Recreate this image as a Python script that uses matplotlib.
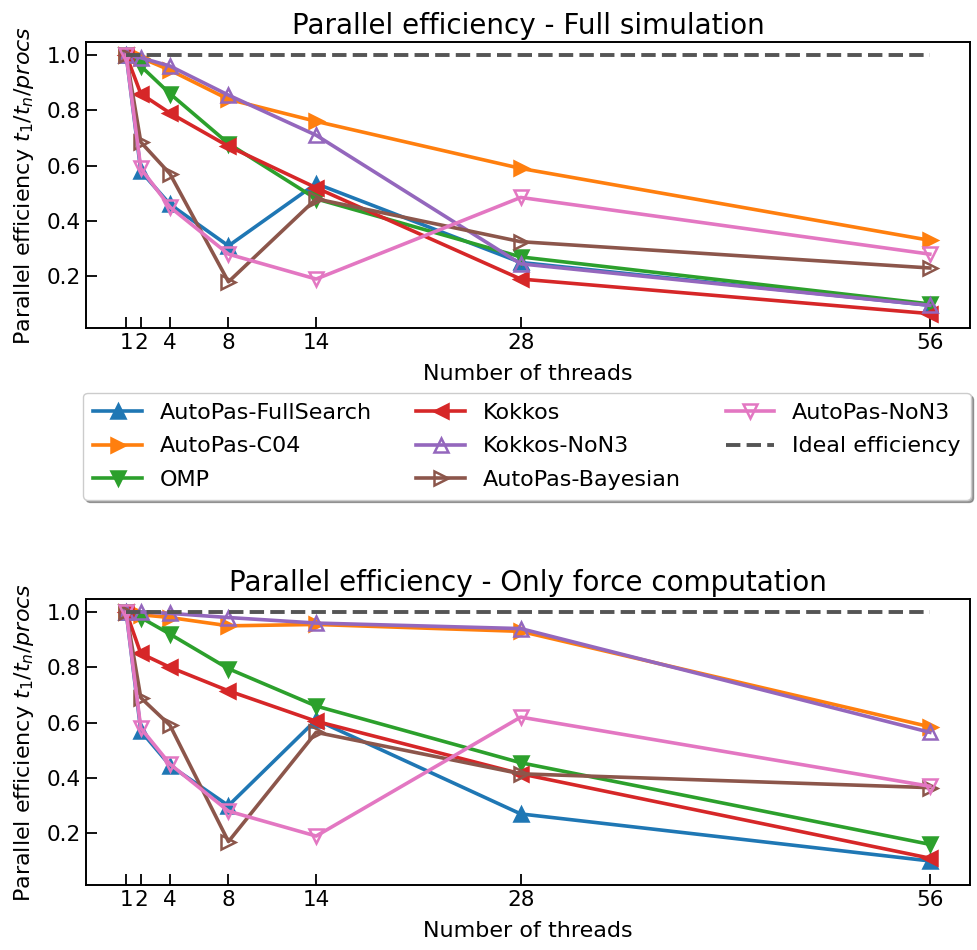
import matplotlib
matplotlib.use("Agg")
from matplotlib import pyplot as plt

threads = [1, 2, 4, 8, 14, 28, 56]

# full simulation
full_fullsearch = [1.0, 0.58, 0.46, 0.31, 0.535, 0.25, 0.095]
full_c04 = [1.0, 0.99, 0.945, 0.84, 0.76, 0.59, 0.33]
full_omp = [1.0, 0.96, 0.86, 0.68, 0.48, 0.27, 0.10]
full_kokkos = [1.0, 0.86, 0.79, 0.67, 0.52, 0.19, 0.065]
full_kokkos_non3 = [1.0, 0.99, 0.96, 0.855, 0.71, 0.245, 0.095]
full_bayesian = [1.0, 0.685, 0.57, 0.18, 0.48, 0.325, 0.23]
full_non3 = [1.0, 0.59, 0.45, 0.28, 0.19, 0.485, 0.28]

# force computation only
force_fullsearch = [1.0, 0.57, 0.445, 0.30, 0.61, 0.27, 0.10]
force_c04 = [1.0, 0.99, 0.98, 0.95, 0.955, 0.93, 0.585]
force_omp = [1.0, 0.98, 0.92, 0.795, 0.66, 0.455, 0.16]
force_kokkos = [1.0, 0.85, 0.80, 0.715, 0.605, 0.415, 0.11]
force_kokkos_non3 = [1.0, 1.0, 0.995, 0.98, 0.96, 0.94, 0.565]
force_bayesian = [1.0, 0.69, 0.59, 0.17, 0.565, 0.415, 0.365]
force_non3 = [1.0, 0.58, 0.45, 0.28, 0.19, 0.62, 0.37]

ideal = [1.0, 1.0]
ideal_x = [1, 56]

names = ["AutoPas-FullSearch", "AutoPas-C04", "OMP", "Kokkos",
         "Kokkos-NoN3", "AutoPas-Bayesian", "AutoPas-NoN3"]
markers = ["^", ">", "v", "<", "^", ">", "v"]
filled = [True, True, True, True, False, False, False]
colors = ["tab:blue", "tab:orange", "tab:green", "tab:red",
          "tab:purple", "tab:brown", "tab:pink"]

full = [full_fullsearch, full_c04, full_omp, full_kokkos,
        full_kokkos_non3, full_bayesian, full_non3]
force = [force_fullsearch, force_c04, force_omp, force_kokkos,
         force_kokkos_non3, force_bayesian, force_non3]

fig = plt.figure(figsize=(9.78, 9.5), dpi=100)
ax1 = fig.add_axes([86/978, 1-328/950, 884/978, 286/950])
ax2 = fig.add_axes([86/978, 1-885/950, 884/978, 286/950])


def draw(ax, series, title):
    for vals, name, m, f, c in zip(series, names, markers, filled, colors):
        ax.plot(threads, vals, marker=m, color=c, lw=2.6, ms=10.5, mew=1.8,
                mfc=c if f else "none", label=name)
    ax.plot(ideal_x, ideal, "--", color="#555555", lw=2.8, label="Ideal efficiency")
    ax.set_title(title, fontsize=20, pad=6)
    ax.set_xlabel("Number of threads", fontsize=16, labelpad=8)
    ax.set_ylabel("Parallel efficiency $t_1/t_n/procs$", fontsize=16, labelpad=8)
    ax.set_xticks(threads)
    ax.set_yticks([0.2, 0.4, 0.6, 0.8, 1.0])
    ax.set_ylim(0.013, 1.047)
    ax.tick_params(direction="in", labelsize=15.5, length=8, width=1.3)
    for s in ax.spines.values():
        s.set_linewidth(1.4)


draw(ax1, full, "Parallel efficiency - Full simulation")
draw(ax2, force, "Parallel efficiency - Only force computation")

h, l = ax1.get_legend_handles_labels()
fig.legend(h, l, ncol=3, fontsize=16, shadow=True, fancybox=True,
           loc="upper center", bbox_to_anchor=(527/978, 1-393/950),
           borderaxespad=0, columnspacing=2.0, handlelength=2.2,
           borderpad=0.45, labelspacing=0.6)

fig.savefig("out.png", dpi=100)
